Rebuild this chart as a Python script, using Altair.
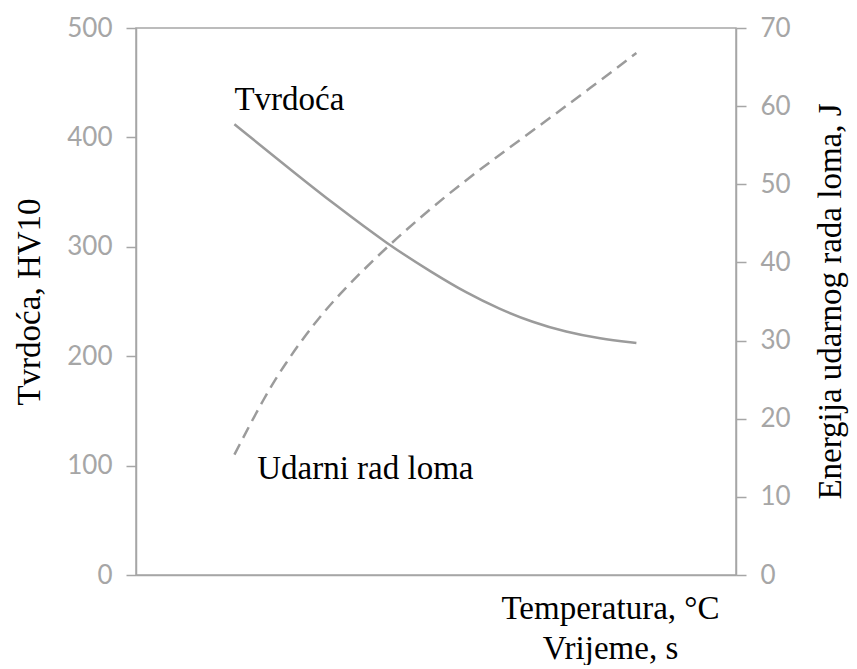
import altair as alt
import pandas as pd

# Hardness curve (left axis, HV10)
x_hard = [16.4, 27.25, 32.8, 42.0, 49.5, 55.0, 60.6, 66.1, 71.7, 77.25, 83.4]
hardness = [412, 364, 340, 302, 276, 258, 243, 231, 222, 216, 212]

# Impact energy curve (right axis, J)
x_energy = [16.4, 21.4, 25.0, 28.9, 33.4, 42.0, 51.7, 58.9, 66.7, 74.5, 83.4]
energy = [15.4, 22.8, 27.2, 31.4, 35.6, 42.2, 48.6, 52.8, 57.2, 61.6, 66.8]

# In-plot labels (position in x units / HV units)
label_text = ["Tvrdoća", "Udarni rad loma"]
label_x = [16.4, 20.2]
label_y = [425, 88]

left_ticks = [0, 100, 200, 300, 400, 500]
right_ticks = [0, 10, 20, 30, 40, 50, 60, 70]

GRAY = "#a6a6a6"
LINE = "#9b9b9b"
SERIF = "Liberation Serif"
SANS = "Lato"

df_h = pd.DataFrame({"x": x_hard, "y": hardness})
df_e = pd.DataFrame({"x": x_energy, "y": energy})
df_t = pd.DataFrame({"x": label_x, "y": label_y, "t": label_text})

xscale = alt.Scale(domain=[0, 100])
xaxis = alt.Axis(
    title=["Temperatura, °C", "Vrijeme, s"],
    ticks=False, labels=False, grid=False,
    domainColor=GRAY, domainWidth=1.5,
    titleFont=SERIF, titleFontSize=33, titleFontWeight="normal", titleColor="black",
    titleX=474, titleY=17, titleAlign="center", titleBaseline="top", titleLineHeight=40,
)

axis_common = dict(
    grid=False, domainColor=GRAY, domainWidth=1.5, tickColor=GRAY, tickSize=10,
    tickWidth=1.5, labelColor=GRAY, labelFont=SANS, labelFontSize=26,
    labelPadding=14, titleFont=SERIF, titleFontSize=33,
    titleFontWeight="normal", titleColor="black",
)

hard_line = alt.Chart(df_h).mark_line(
    color=LINE, strokeWidth=2.5, interpolate="basis"
).encode(
    x=alt.X("x:Q", scale=xscale, axis=xaxis),
    y=alt.Y("y:Q", scale=alt.Scale(domain=[0, 500]),
            axis=alt.Axis(values=left_ticks, title="Tvrdoća, HV10",
                          titlePadding=20, **axis_common)),
)

texts = alt.Chart(df_t).mark_text(
    font=SERIF, fontSize=33, color="black", align="left", baseline="alphabetic"
).encode(
    x=alt.X("x:Q", scale=xscale),
    y=alt.Y("y:Q"),
    text="t:N",
)

energy_line = alt.Chart(df_e).mark_line(
    color=LINE, strokeWidth=2.5, strokeDash=[12, 7], interpolate="basis"
).encode(
    x=alt.X("x:Q", scale=xscale),
    y=alt.Y("y:Q", scale=alt.Scale(domain=[0, 70]),
            axis=alt.Axis(orient="right", values=right_ticks,
                          title="Energija udarnog rada loma, J", titleAngle=270,
                          titleX=94, titleY=273, titleAlign="center",
                          titleBaseline="middle", **axis_common)),
)

chart = alt.layer(alt.layer(hard_line, texts), energy_line).resolve_scale(
    y="independent"
).properties(
    width=600, height=547,
    autosize=alt.AutoSizeParams(type="none"),
    padding={"left": 128, "top": 20, "right": 113, "bottom": 90},
).configure_view(stroke=GRAY, strokeWidth=1.5)

chart.save("out.html", embed_options={"renderer": "svg", "actions": False})
